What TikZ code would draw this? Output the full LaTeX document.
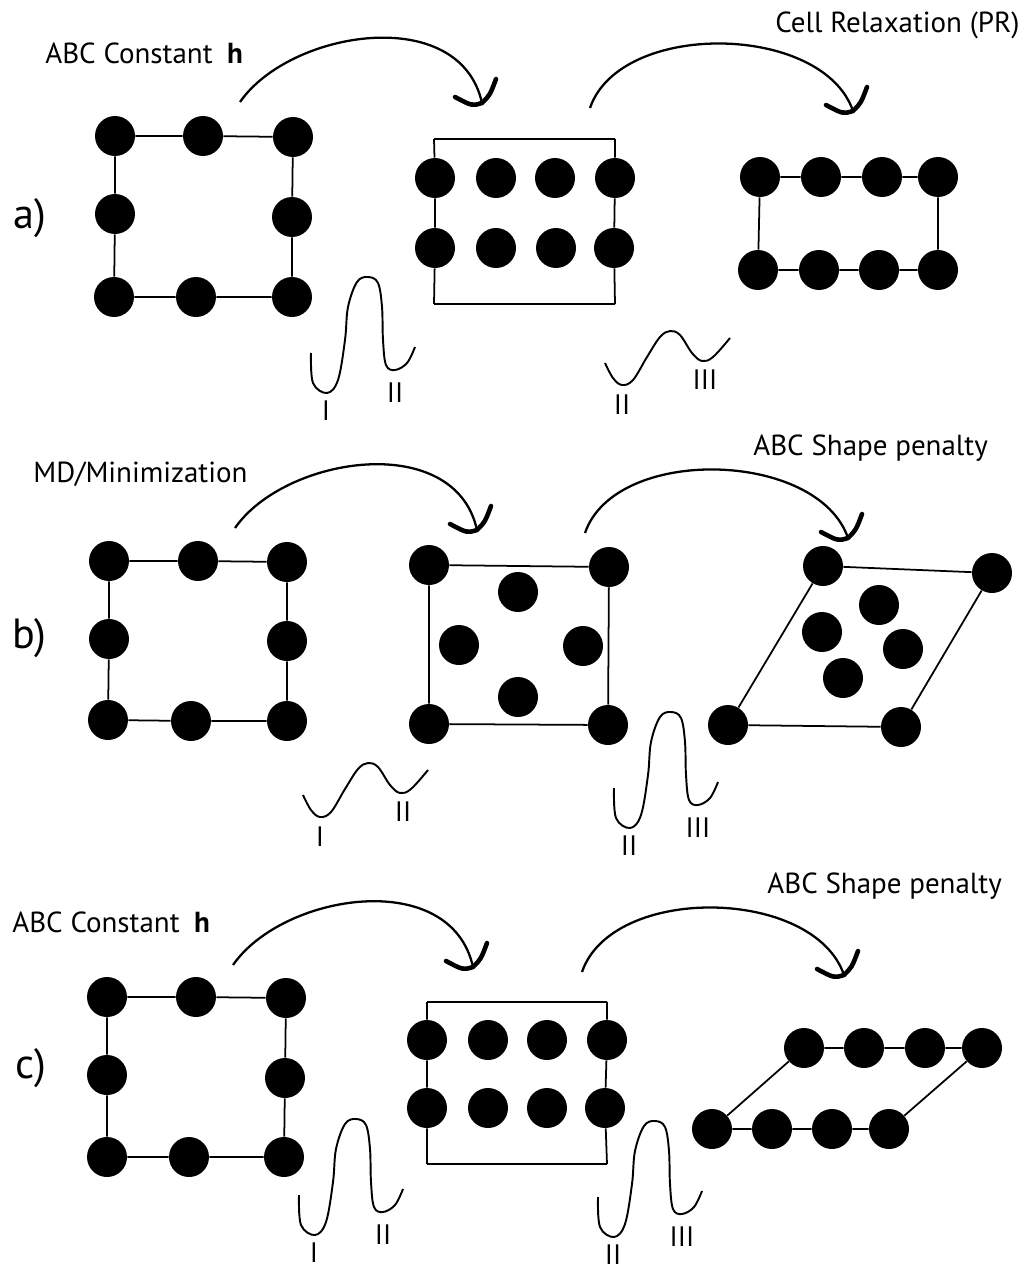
\documentclass[tikz,border=0pt]{standalone}
\usepackage{fontspec}
\setmainfont{PT Sans}
\usetikzlibrary{calc}
\tikzset{
  dot/.style={circle,fill=black,draw=none,minimum size=0.8cm,inner sep=0pt},
  bond/.style={line width=1pt,black},
  arcst/.style={line width=1.3pt,black},
  barbst/.style={line width=2.6pt,black,line cap=round,line join=round},
  ecurve/.style={line width=1.1pt,black},
  lbl/.style={font=\fontsize{16}{18}\selectfont,inner sep=0pt},
  ttl/.style={font=\fontsize{16.5}{19}\selectfont,inner sep=0pt,anchor=base west},
  plab/.style={font=\fontsize{24}{28}\selectfont,inner sep=0pt,anchor=base west}
}
\newcommand\mybarb[1]{\draw[barbst] ($(#1)+(-27,-6)$) .. controls ($(#1)+(-10,3)$) .. (#1) .. controls ($(#1)+(8,-8)$) .. ($(#1)+(14,-24)$);}
\newcommand\myasym[2]{\draw[arcst] (#1) .. controls ($(#1)+(50,-72)$) and ($(#2)+(-22,-100)$) .. (#2); \mybarb{#2}}
\newcommand\mysym[2]{\draw[arcst] (#1) .. controls ($(#1)+(30,-88)$) and ($(#2)+(-30,-88)$) .. (#2); \mybarb{#2}}
\newcommand\hibar[5]{\begin{scope}[shift={(#1,#2)}]
  \draw[ecurve] plot[smooth,tension=0.6] coordinates {(0,0) (2,30) (16,40) (27,27) (34,-13) (37,-46) (46,-71) (57,-76) (67,-70) (71,-46) (72,-13) (75,12) (84,17) (96,10) (104,-6)};
  \node[lbl] (#5l) at (15,58) {#3};
  \node[lbl] (#5r) at (84,40) {#4};
\end{scope}}
\newcommand\lobar[5]{\begin{scope}[shift={(#1,#2)}]
  \draw[ecurve] plot[smooth,tension=0.6] coordinates {(0,0) (8,15) (17,22) (28,17) (42,-6) (55,-26) (65,-32) (75,-28) (87,-10) (97,-2) (108,-6) (125,-25)};
  \node[lbl] (#5l) at (17,42) {#3};
  \node[lbl] (#5r) at (100,17) {#4};
\end{scope}}
\begin{document}
\begin{tikzpicture}[x=0.02cm,y=-0.02cm]
\useasboundingbox[fill=white] (0,0) rectangle (1034,1271);

% ================= a) =================
\node[plab] (la) at (13,228) {a)};
\node[ttl] (ta1) at (45,63) {ABC Constant\hspace{0.5em}\textbf{h}};
\node[ttl] (ta2) at (775,32) {Cell Relaxation (PR)};
% left square
\node[dot] (a1) at (115,136) {};
\node[dot] (a2) at (203,136) {};
\node[dot] (a3) at (293,137) {};
\node[dot] (a4) at (115,214) {};
\node[dot] (a5) at (292,217) {};
\node[dot] (a6) at (114,297) {};
\node[dot] (a7) at (196,297) {};
\node[dot] (a8) at (292,297) {};
\draw[bond] (a1)--(a2) (a2)--(a3) (a3)--(a5) (a5)--(a8) (a8)--(a7) (a7)--(a6) (a6)--(a4) (a4)--(a1);
% middle box
\coordinate (am1) at (434,139);
\coordinate (am2) at (615,139);
\coordinate (am3) at (615,304);
\coordinate (am4) at (434,304);
\node[dot] (b11) at (435,178) {};
\node[dot] (b12) at (496,178) {};
\node[dot] (b13) at (555,178) {};
\node[dot] (b14) at (615,178) {};
\node[dot] (b21) at (435,248) {};
\node[dot] (b22) at (496,248) {};
\node[dot] (b23) at (556,248) {};
\node[dot] (b24) at (614,248) {};
\draw[bond] (am1)--(am2) (am2)--(b14) (b14)--(b24) (b24)--(am3) (am3)--(am4) (am4)--(b21) (b21)--(b11) (b11)--(am1);
% right rectangle
\node[dot] (c1) at (760,177) {};
\node[dot] (c2) at (821,177) {};
\node[dot] (c3) at (882,177) {};
\node[dot] (c4) at (938,177) {};
\node[dot] (c5) at (758,270) {};
\node[dot] (c6) at (819,270) {};
\node[dot] (c7) at (879,270) {};
\node[dot] (c8) at (938,270) {};
\draw[bond] (c1)--(c2) (c2)--(c3) (c3)--(c4) (c5)--(c6) (c6)--(c7) (c7)--(c8) (c1)--(c5) (c4)--(c8);
% arrows
\coordinate (sa1) at (240,102); \coordinate (ea1) at (482,103);
\coordinate (sa2) at (590,108); \coordinate (ea2) at (853,111);
\myasym{sa1}{ea1}
\mysym{sa2}{ea2}
% energy curves
\hibar{311}{353}{I}{II}{ea}
\lobar{605}{363}{II}{III}{eb}

% ================= b) =================
\node[plab] (lb) at (12,648) {b)};
\node[ttl] (tb1) at (33,482) {MD/Minimization};
\node[ttl] (tb2) at (753,455) {ABC Shape penalty};
\node[dot] (d1) at (109,561) {};
\node[dot] (d2) at (198,561) {};
\node[dot] (d3) at (287,562) {};
\node[dot] (d4) at (109,639) {};
\node[dot] (d5) at (287,641) {};
\node[dot] (d6) at (108,720) {};
\node[dot] (d7) at (191,721) {};
\node[dot] (d8) at (287,721) {};
\draw[bond] (d1)--(d2) (d2)--(d3) (d3)--(d5) (d5)--(d8) (d8)--(d7) (d7)--(d6) (d6)--(d4) (d4)--(d1);
% middle square
\node[dot] (e1) at (429,565) {};
\node[dot] (e2) at (609,567) {};
\node[dot] (e3) at (608,725) {};
\node[dot] (e4) at (429,724) {};
\node[dot] (e5) at (518,592) {};
\node[dot] (e6) at (459,645) {};
\node[dot] (e7) at (583,646) {};
\node[dot] (e8) at (518,697) {};
\draw[bond] (e1)--(e2) (e2)--(e3) (e3)--(e4) (e4)--(e1);
% right parallelogram
\node[dot] (f1) at (823,566) {};
\node[dot] (f2) at (992,573) {};
\node[dot] (f3) at (901,727) {};
\node[dot] (f4) at (728,725) {};
\node[dot] (f5) at (879,605) {};
\node[dot] (f6) at (822,632) {};
\node[dot] (f7) at (903,649) {};
\node[dot] (f8) at (843,678) {};
\draw[bond] (f1)--(f2) (f2)--(f3) (f3)--(f4) (f4)--(f1);
\coordinate (sb1) at (235,528); \coordinate (eb1) at (477,530);
\coordinate (sb2) at (585,533); \coordinate (eb2) at (848,538);
\myasym{sb1}{eb1}
\mysym{sb2}{eb2}
\lobar{303}{795}{I}{II}{ec}
\hibar{614}{788}{II}{III}{ed}

% ================= c) =================
\node[plab] (lc) at (15,1078) {c)};
\node[ttl] (tc1) at (12,932) {ABC Constant\hspace{0.5em}\textbf{h}};
\node[ttl] (tc2) at (767,893) {ABC Shape penalty};
\node[dot] (g1) at (107,997) {};
\node[dot] (g2) at (196,997) {};
\node[dot] (g3) at (286,998) {};
\node[dot] (g4) at (107,1075) {};
\node[dot] (g5) at (285,1078) {};
\node[dot] (g6) at (107,1157) {};
\node[dot] (g7) at (189,1157) {};
\node[dot] (g8) at (284,1157) {};
\draw[bond] (g1)--(g2) (g2)--(g3) (g3)--(g5) (g5)--(g8) (g8)--(g7) (g7)--(g6) (g6)--(g4) (g4)--(g1);
\coordinate (cm1) at (427,1002);
\coordinate (cm2) at (607,1002);
\coordinate (cm3) at (607,1164);
\coordinate (cm4) at (427,1164);
\node[dot] (h11) at (427,1040) {};
\node[dot] (h12) at (488,1040) {};
\node[dot] (h13) at (547,1040) {};
\node[dot] (h14) at (607,1040) {};
\node[dot] (h21) at (427,1108) {};
\node[dot] (h22) at (488,1108) {};
\node[dot] (h23) at (547,1108) {};
\node[dot] (h24) at (605,1108) {};
\draw[bond] (cm1)--(cm2) (cm2)--(h14) (h14)--(h24) (h24)--(cm3) (cm3)--(cm4) (cm4)--(h21) (h21)--(h11) (h11)--(cm1);
\node[dot] (k1) at (804,1048) {};
\node[dot] (k2) at (864,1048) {};
\node[dot] (k3) at (925,1048) {};
\node[dot] (k4) at (982,1048) {};
\node[dot] (k5) at (712,1129) {};
\node[dot] (k6) at (772,1129) {};
\node[dot] (k7) at (832,1129) {};
\node[dot] (k8) at (889,1129) {};
\draw[bond] (k1)--(k2) (k2)--(k3) (k3)--(k4) (k5)--(k6) (k6)--(k7) (k7)--(k8) (k1)--(k5) (k4)--(k8);
\coordinate (sc1) at (233,965); \coordinate (ec1) at (473,967);
\coordinate (sc2) at (582,972); \coordinate (ec2) at (844,975);
\myasym{sc1}{ec1}
\mysym{sc2}{ec2}
\hibar{299}{1195}{I}{II}{ee}
\hibar{598}{1197}{II}{III}{ef}
\end{tikzpicture}
\end{document}
